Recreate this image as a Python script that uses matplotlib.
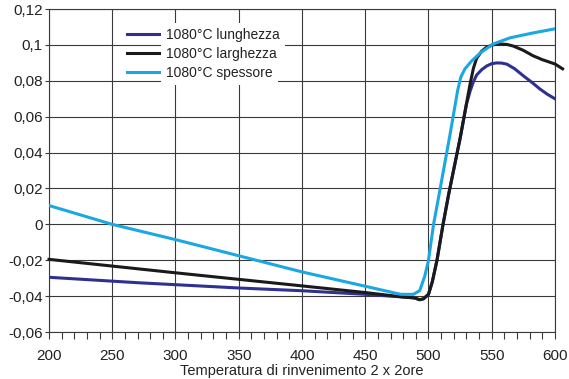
import matplotlib
matplotlib.use("Agg")
import matplotlib.pyplot as plt
from matplotlib.ticker import MultipleLocator

plt.rcParams['font.family'] = ['Liberation Sans', 'DejaVu Sans']

# Data
series_labels = ["1080°C lunghezza", "1080°C larghezza", "1080°C spessore"]
series_colors = ["#2e3192", "#1a1a1a", "#1aa7e3"]

lung_t = [200, 272, 351, 400, 450, 480, 489, 493, 496, 500, 503, 506.7, 511.5,
          516, 525, 530, 533, 535.5, 538, 542, 546, 550, 554, 558, 562, 568,
          575, 582, 588, 594, 600]
lung_v = [-0.0295, -0.0326, -0.0355, -0.037, -0.039, -0.0405, -0.041, -0.042,
          -0.0415, -0.039, -0.032, -0.02, 0.0, 0.017, 0.048, 0.067, 0.0745,
          0.0795, 0.0832, 0.0862, 0.0883, 0.0896, 0.0900, 0.0899, 0.0893,
          0.0868, 0.0828, 0.0790, 0.0755, 0.0725, 0.070]

larg_t = [200, 300, 400, 450, 480, 489, 493, 496, 500, 503, 506.7, 511.5, 516,
          525, 532.8, 535.5, 538, 542, 546, 551, 556.5, 562, 567, 575, 582.6,
          590, 600, 606]
larg_v = [-0.0195, -0.027, -0.0343, -0.038, -0.0405, -0.041, -0.042, -0.0415,
          -0.039, -0.032, -0.02, 0.0, 0.017, 0.048, 0.078, 0.087, 0.0925,
          0.0965, 0.0988, 0.1001, 0.1006, 0.1003, 0.0994, 0.0970, 0.094,
          0.0918, 0.0894, 0.0867]

spes_t = [200, 250, 300, 350, 400, 450, 478, 488, 493, 497, 500, 504, 507.5,
          517, 523, 525.5, 528.8, 534, 541, 551, 564.5, 582.6, 600]
spes_v = [0.0105, 0.0, -0.0085, -0.0175, -0.0265, -0.0345, -0.039, -0.039,
          -0.037, -0.029, -0.02, 0.0, 0.0133, 0.050, 0.0745, 0.082, 0.0867,
          0.091, 0.0956, 0.1005, 0.104, 0.1067, 0.109]

x_ticks = [200, 250, 300, 350, 400, 450, 500, 550, 600]
y_ticks = [-0.06, -0.04, -0.02, 0, 0.02, 0.04, 0.06, 0.08, 0.1, 0.12]
y_tick_labels = ["-0,06", "-0,04", "-0,02", "0", "0,02", "0,04", "0,06",
                 "0,08", "0,1", "0,12"]
x_label = "Temperatura di rinvenimento 2 x 2ore"

fig = plt.figure(figsize=(5.69, 3.79), dpi=100)
ax = fig.add_axes([0.0861, 0.124, 0.8893, 0.852])

line_col = "#3a3a3a"
for t, v, lab, col in zip([lung_t, larg_t, spes_t], [lung_v, larg_v, spes_v],
                          series_labels, series_colors):
    ax.plot(t, v, color=col, lw=2.2, label=lab, solid_joinstyle="round",
            clip_on=(lab != series_labels[1]), zorder=3)

ax.set_xlim(200, 600)
ax.set_ylim(-0.06, 0.12)
ax.set_xticks(x_ticks)
ax.xaxis.set_minor_locator(MultipleLocator(10))
ax.set_yticks(y_ticks)
ax.set_yticklabels(y_tick_labels)

ax.grid(True, which="major", color=line_col, lw=0.8)
for s in ax.spines.values():
    s.set_color(line_col)
    s.set_linewidth(0.8)

ax.tick_params(axis="x", which="both", direction="out", length=5, width=0.8,
               color=line_col, pad=7, labelsize=11, labelcolor="#222222")
ax.tick_params(axis="y", direction="out", length=3, width=0.8,
               color=line_col, pad=1.5, labelsize=11, labelcolor="#222222")
ax.set_xlabel(x_label, fontsize=10.5, color="#222222", labelpad=1)

# legend without frame; white box only behind the label texts
leg = ax.legend(loc="upper left", bbox_to_anchor=(0.148, 0.95), fontsize=10,
                frameon=False, handlelength=2.7,
                handletextpad=0.15, labelspacing=0.36, borderpad=0.2,
                borderaxespad=0)
leg.set_zorder(5)
for h in leg.get_lines():
    h.set_linewidth(2.2)
for txt in leg.get_texts():
    txt.set_color("#222222")
    txt.set_bbox(dict(facecolor="white", edgecolor="none", pad=3.5))

fig.savefig("out.png", dpi=100)
